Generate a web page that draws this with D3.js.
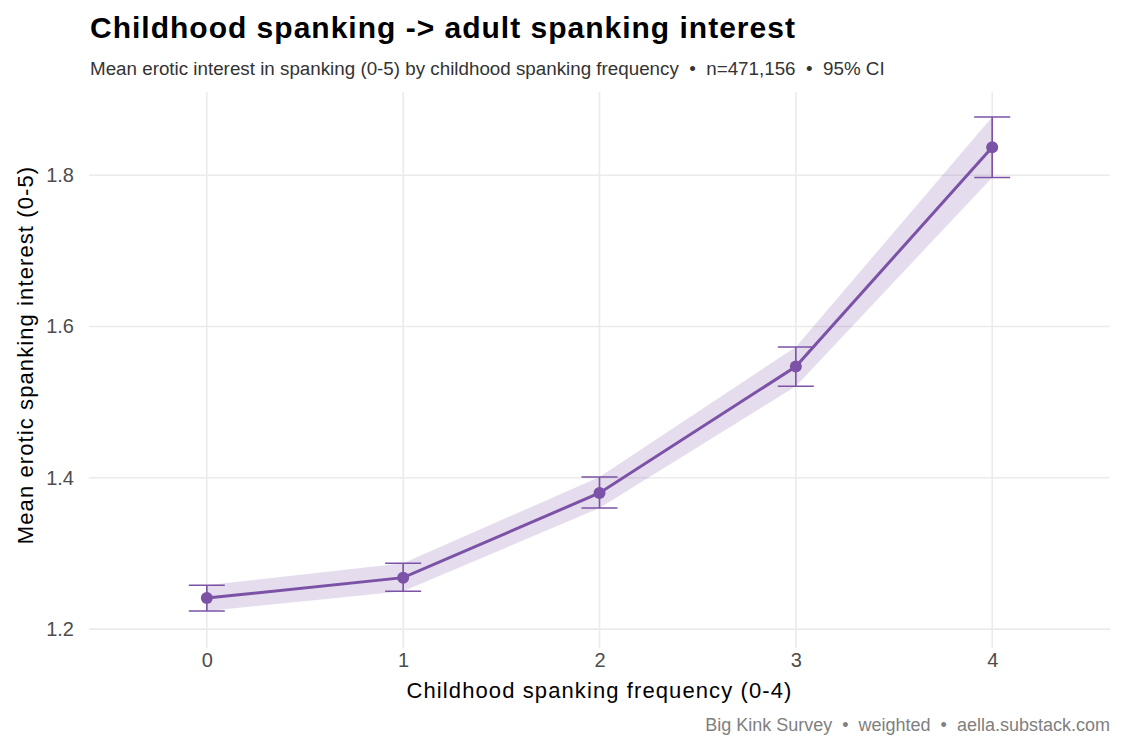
<!DOCTYPE html>
<html>
<head>
<meta charset="utf-8">
<script src="https://cdn.jsdelivr.net/npm/d3@7"></script>
<style>
  body { margin: 0; background: #fff; }
  text { font-family: "Liberation Sans", Arial, sans-serif; white-space: pre; }
</style>
</head>
<body>
<div id="chart"></div>
<script>
// data
var freq = [0, 1, 2, 3, 4];
var meanVal = [1.241, 1.268, 1.380, 1.547, 1.837];
var ciLow = [1.224, 1.250, 1.360, 1.521, 1.797];
var ciHigh = [1.258, 1.287, 1.401, 1.573, 1.877];
var yTicks = [1.2, 1.4, 1.6, 1.8];

var W = 1125, H = 750;
var margin = {top: 92, right: 15, bottom: 102, left: 89};

var svg = d3.select("#chart").append("svg")
    .attr("width", W)
    .attr("height", H);

var x = d3.scaleLinear()
    .domain([-0.6, 4.6])
    .range([margin.left, W - margin.right]);
var y = d3.scaleLinear()
    .domain([1.175, 1.91])
    .range([H - margin.bottom, margin.top]);

var data = freq.map(function(f, i) {
  return {f: f, m: meanVal[i], lo: ciLow[i], hi: ciHigh[i]};
});

// grid
svg.append("g").selectAll("line.h")
  .data(yTicks).enter().append("line")
    .attr("x1", margin.left).attr("x2", W - margin.right)
    .attr("y1", function(d) { return y(d); })
    .attr("y2", function(d) { return y(d); })
    .attr("stroke", "#ebebeb").attr("stroke-width", 1.6);
svg.append("g").selectAll("line.v")
  .data(freq).enter().append("line")
    .attr("y1", margin.top).attr("y2", H - margin.bottom)
    .attr("x1", function(d) { return x(d); })
    .attr("x2", function(d) { return x(d); })
    .attr("stroke", "#ebebeb").attr("stroke-width", 1.6);

// axes (text only)
var xAxis = svg.append("g")
  .attr("transform", "translate(0," + (H - margin.bottom) + ")")
  .call(d3.axisBottom(x).tickValues(freq).tickFormat(d3.format("d")).tickSize(0).tickPadding(5));
var yAxis = svg.append("g")
  .attr("transform", "translate(" + margin.left + ",0)")
  .call(d3.axisLeft(y).tickValues(yTicks).tickFormat(d3.format(".1f")).tickSize(0).tickPadding(15));
[xAxis, yAxis].forEach(function(a) {
  a.select(".domain").remove();
  a.selectAll("text")
    .style("font-family", "'Liberation Sans', Arial, sans-serif")
    .style("font-size", "20px")
    .attr("fill", "#4d4d4d");
});

// ribbon
svg.append("path")
  .datum(data)
  .attr("fill", "#7b52a6")
  .attr("fill-opacity", 0.2)
  .attr("d", d3.area()
    .x(function(d) { return x(d.f); })
    .y0(function(d) { return y(d.lo); })
    .y1(function(d) { return y(d.hi); }));

// line
svg.append("path")
  .datum(data)
  .attr("fill", "none")
  .attr("stroke", "#7b52a6")
  .attr("stroke-width", 3)
  .attr("d", d3.line()
    .x(function(d) { return x(d.f); })
    .y(function(d) { return y(d.m); }));

// error bars
var eb = svg.append("g").attr("stroke", "#7b52a6").attr("stroke-width", 1.6);
eb.selectAll("line.stem").data(data).enter().append("line")
  .attr("x1", function(d) { return x(d.f); })
  .attr("x2", function(d) { return x(d.f); })
  .attr("y1", function(d) { return y(d.lo); })
  .attr("y2", function(d) { return y(d.hi); });
eb.selectAll("line.top").data(data).enter().append("line")
  .attr("x1", function(d) { return x(d.f) - 18; })
  .attr("x2", function(d) { return x(d.f) + 18; })
  .attr("y1", function(d) { return y(d.hi); })
  .attr("y2", function(d) { return y(d.hi); });
eb.selectAll("line.bot").data(data).enter().append("line")
  .attr("x1", function(d) { return x(d.f) - 18; })
  .attr("x2", function(d) { return x(d.f) + 18; })
  .attr("y1", function(d) { return y(d.lo); })
  .attr("y2", function(d) { return y(d.lo); });

// points
svg.selectAll("circle").data(data).enter().append("circle")
  .attr("cx", function(d) { return x(d.f); })
  .attr("cy", function(d) { return y(d.m); })
  .attr("r", 6)
  .attr("fill", "#7b52a6");

// titles
svg.append("text")
  .attr("x", 90).attr("y", 38)
  .style("font-size", "30px").style("font-weight", "bold")
  .style("letter-spacing", "1px")
  .attr("fill", "#000")
  .text("Childhood spanking -> adult spanking interest");
svg.append("text")
  .attr("x", 90).attr("y", 75)
  .style("font-size", "18.8px")
  .attr("fill", "#333")
  .text("Mean erotic interest in spanking (0-5) by childhood spanking frequency  \u2022  n=471,156  \u2022  95% CI");
svg.append("text")
  .attr("x", x(2)).attr("y", 698)
  .attr("text-anchor", "middle")
  .style("font-size", "22px")
  .style("letter-spacing", "1.1px")
  .attr("fill", "#000")
  .text("Childhood spanking frequency (0-4)");
svg.append("text")
  .attr("transform", "translate(33,355)rotate(-90)")
  .attr("text-anchor", "middle")
  .style("font-size", "22px")
  .style("letter-spacing", "1.1px")
  .attr("fill", "#000")
  .text("Mean erotic spanking interest (0-5)");
svg.append("text")
  .attr("x", 1110).attr("y", 731)
  .attr("text-anchor", "end")
  .style("font-size", "18px")
  .attr("fill", "#808080")
  .text("Big Kink Survey  \u2022  weighted  \u2022  aella.substack.com");
</script>
</body>
</html>
